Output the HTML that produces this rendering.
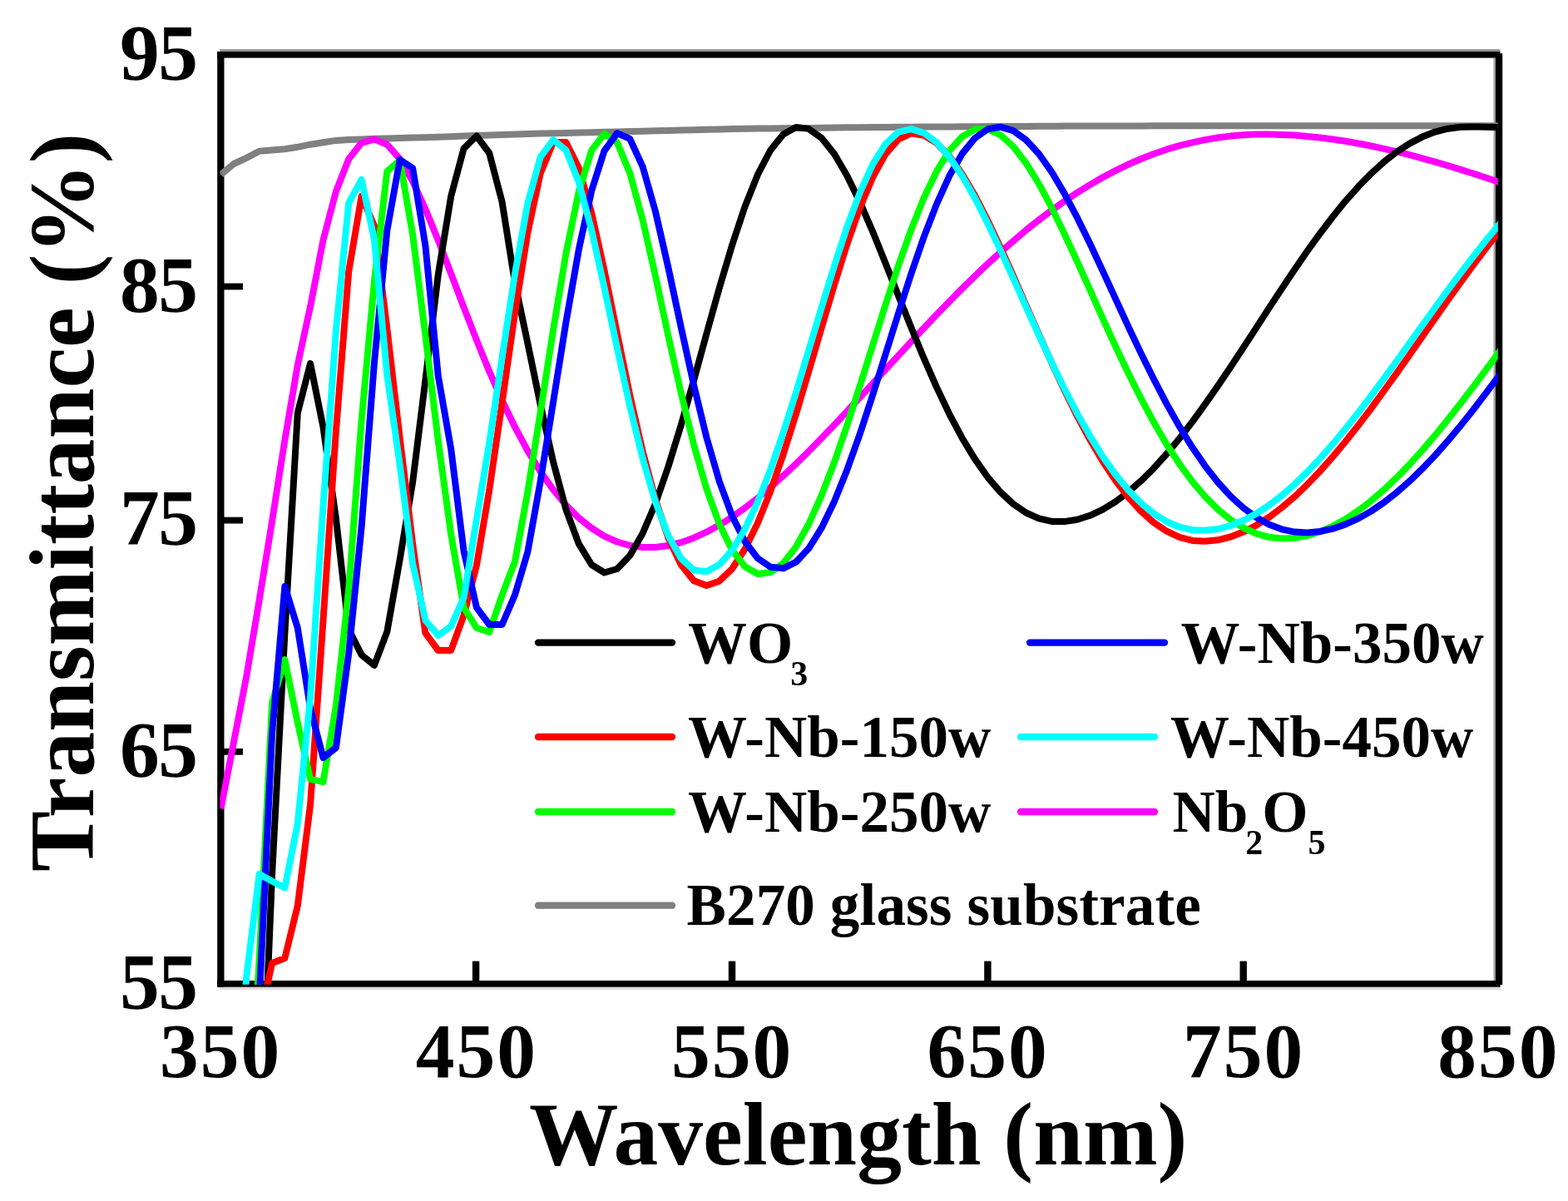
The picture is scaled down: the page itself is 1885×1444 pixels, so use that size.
<!DOCTYPE html>
<html lang="en"><head><meta charset="utf-8"><title>Transmittance spectra</title>
<style>html,body{margin:0;padding:0;background:#fff;}body{width:1885px;height:1444px;overflow:hidden;}svg{display:block;}text{font-family:"Liberation Serif","DejaVu Serif",serif;font-weight:bold;fill:#000;}</style>
</head><body>
<svg xmlns="http://www.w3.org/2000/svg" width="1885" height="1444" viewBox="0 0 1885 1444">
<rect x="0" y="0" width="1885" height="1444" fill="#ffffff"/>
<defs><clipPath id="plot"><rect x="264.4" y="61.5" width="1536.4" height="1122.3"/></clipPath></defs>
<rect x="264.2" y="59.2" width="1539.3" height="3" fill="#909090"/>
<rect x="1795.6" y="69.6" width="2.6" height="1109.6" fill="#999999"/>
<rect x="264.2" y="1186.6" width="1539.8" height="3.4" fill="#dcdcdc"/>
<g fill="#000">
<rect x="261.2" y="62.1" width="8.3" height="1124.6"/>
<rect x="261.2" y="62.1" width="1542.3" height="7.5"/>
<rect x="1798" y="64.2" width="8.2" height="1119.8"/>
<rect x="261.2" y="1179" width="1542.4" height="7.7"/>
<rect x="567.9" y="1155.6" width="8.4" height="24"/>
<rect x="875.8" y="1155.6" width="8.4" height="24"/>
<rect x="1183.2" y="1155.6" width="8.4" height="24"/>
<rect x="1490.5" y="1155.6" width="8.4" height="24"/>
<rect x="269" y="340.6" width="23" height="7.8"/>
<rect x="269" y="621.7" width="23" height="7.8"/>
<rect x="269" y="899.9" width="23" height="7.8"/>
</g>
<g clip-path="url(#plot)" fill="none" stroke-width="8.0" stroke-linejoin="round" stroke-linecap="butt">
<path stroke="#808080" d="M265.6,210.0 L281.0,197.0 L296.3,189.9 L311.7,181.8 L327.1,180.5 L342.4,179.3 L357.8,176.8 L373.1,173.7 L388.5,171.2 L403.9,168.9 L419.2,168.0 L434.6,167.4 L450.0,166.8 L465.3,166.4 L480.7,166.0 L496.1,165.6 L511.4,165.2 L526.8,164.8 L542.2,164.2 L557.5,163.6 L572.9,163.0 L588.2,162.5 L603.6,162.0 L619.0,161.6 L634.3,161.1 L649.7,160.6 L665.1,160.2 L680.4,159.9 L695.8,159.5 L711.2,159.2 L726.5,158.8 L741.9,158.4 L757.2,158.1 L772.6,157.7 L788.0,157.3 L803.3,156.9 L818.7,156.6 L834.1,156.2 L849.4,155.8 L864.8,155.4 L880.2,155.0 L895.5,154.8 L910.9,154.6 L926.3,154.4 L941.6,154.2 L957.0,154.0 L972.3,153.9 L987.7,153.7 L1003.1,153.5 L1018.4,153.3 L1033.8,153.2 L1049.2,153.1 L1064.5,152.9 L1079.9,152.8 L1095.3,152.7 L1110.6,152.5 L1126.0,152.4 L1141.3,152.4 L1156.7,152.3 L1172.1,152.2 L1187.4,152.1 L1202.8,152.0 L1218.2,151.9 L1233.5,151.9 L1248.9,151.8 L1264.3,151.7 L1279.6,151.6 L1295.0,151.5 L1310.4,151.5 L1325.7,151.5 L1341.1,151.4 L1356.4,151.4 L1371.8,151.4 L1387.2,151.3 L1402.5,151.3 L1417.9,151.3 L1433.3,151.3 L1448.6,151.2 L1464.0,151.2 L1479.4,151.2 L1494.7,151.2 L1510.1,151.2 L1525.4,151.2 L1540.8,151.2 L1556.2,151.2 L1571.5,151.2 L1586.9,151.2 L1602.3,151.2 L1617.6,151.2 L1633.0,151.2 L1648.4,151.2 L1663.7,151.2 L1679.1,151.2 L1694.5,151.2 L1709.8,151.2 L1725.2,151.2 L1740.5,151.2 L1755.9,151.2 L1771.3,151.2 L1786.6,151.2 L1802.0,151.2 L1814.0,151.2"/>
<path stroke="#ff00ff" d="M265.6,972.3 L281.0,892.2 L296.3,813.2 L311.7,721.5 L327.1,626.7 L342.4,529.2 L357.8,439.0 L373.1,368.4 L388.5,288.8 L403.9,230.2 L419.2,191.2 L434.6,171.8 L450.0,167.4 L465.3,173.7 L480.7,191.2 L496.1,217.9 L511.4,251.3 L526.8,289.0 L542.2,329.0 L557.5,369.4 L572.9,408.9 L588.2,446.5 L603.6,481.5 L619.0,513.4 L634.3,541.9 L649.7,567.1 L665.1,588.8 L680.4,607.3 L695.8,622.7 L711.2,635.0 L726.5,644.6 L741.9,651.5 L757.2,655.9 L772.6,658.0 L788.0,658.0 L803.3,656.0 L818.7,652.2 L834.1,646.7 L849.4,639.7 L864.8,631.3 L880.2,621.6 L895.5,610.7 L910.9,598.8 L926.3,585.8 L941.6,572.1 L957.0,557.6 L972.3,542.5 L987.7,526.8 L1003.1,510.8 L1018.4,494.4 L1033.8,477.8 L1049.2,461.1 L1064.5,444.3 L1079.9,427.6 L1095.3,410.9 L1110.6,394.5 L1126.0,378.3 L1141.3,362.4 L1156.7,346.9 L1172.1,331.8 L1187.4,317.2 L1202.8,303.2 L1218.2,289.7 L1233.5,276.7 L1248.9,264.5 L1264.3,252.8 L1279.6,241.9 L1295.0,231.6 L1310.4,222.1 L1325.7,213.2 L1341.1,205.1 L1356.4,197.7 L1371.8,191.0 L1387.2,185.0 L1402.5,179.7 L1417.9,175.2 L1433.3,171.3 L1448.6,168.1 L1464.0,165.5 L1479.4,163.6 L1494.7,162.3 L1510.1,161.6 L1525.4,161.5 L1540.8,161.9 L1556.2,162.6 L1571.5,163.9 L1586.9,165.5 L1602.3,167.5 L1617.6,169.8 L1633.0,172.5 L1648.4,175.5 L1663.7,178.8 L1679.1,182.4 L1694.5,186.2 L1709.8,190.3 L1725.2,194.6 L1740.5,199.1 L1755.9,203.8 L1771.3,208.7 L1786.6,213.7 L1802.0,218.9 L1814.0,222.9"/>
<path stroke="#000000" d="M311.7,1420.0 L327.1,1051.1 L342.4,761.4 L357.8,496.6 L373.1,437.0 L388.5,513.5 L403.9,623.4 L419.2,756.7 L434.6,787.4 L450.0,799.9 L465.3,759.6 L480.7,672.6 L496.1,579.9 L511.4,457.1 L526.8,330.0 L542.2,236.0 L557.5,178.7 L572.9,163.5 L588.2,184.0 L603.6,242.8 L619.0,339.9 L634.3,412.4 L649.7,486.6 L665.1,555.4 L680.4,612.5 L695.8,653.8 L711.2,679.0 L726.5,688.5 L741.9,684.0 L757.2,668.0 L772.6,641.3 L788.0,605.3 L803.3,561.3 L818.7,511.2 L834.1,457.1 L849.4,401.3 L864.8,346.2 L880.2,294.5 L895.5,248.4 L910.9,209.9 L926.3,180.5 L941.6,161.4 L957.0,153.0 L972.3,154.9 L987.7,166.0 L1003.1,185.3 L1018.4,211.6 L1033.8,243.2 L1049.2,278.6 L1064.5,316.4 L1079.9,355.2 L1095.3,393.6 L1110.6,430.7 L1126.0,465.6 L1141.3,497.8 L1156.7,526.7 L1172.1,552.1 L1187.4,573.8 L1202.8,591.8 L1218.2,606.0 L1233.5,616.5 L1248.9,623.4 L1264.3,626.9 L1279.6,627.1 L1295.0,624.7 L1310.4,619.8 L1325.7,612.6 L1341.1,603.1 L1356.4,591.6 L1371.8,578.1 L1387.2,562.8 L1402.5,545.8 L1417.9,527.2 L1433.3,507.3 L1448.6,486.2 L1464.0,464.1 L1479.4,441.3 L1494.7,418.0 L1510.1,394.4 L1525.4,370.7 L1540.8,347.3 L1556.2,324.3 L1571.5,302.1 L1586.9,280.7 L1602.3,260.5 L1617.6,241.6 L1633.0,224.3 L1648.4,208.6 L1663.7,194.7 L1679.1,182.7 L1694.5,172.6 L1709.8,164.6 L1725.2,158.6 L1740.5,154.7 L1755.9,152.7 L1771.3,152.5 L1786.6,152.7 L1802.0,153.0 L1814.0,153.2"/>
<path stroke="#ff0000" d="M311.7,1228.0 L327.1,1158.0 L342.4,1152.0 L357.8,1089.0 L373.1,967.3 L388.5,746.1 L403.9,518.6 L419.2,326.6 L434.6,236.0 L450.0,271.7 L465.3,394.8 L480.7,526.7 L496.1,654.0 L511.4,761.2 L526.8,782.0 L542.2,782.0 L557.5,740.0 L572.9,680.0 L588.2,589.5 L603.6,484.2 L619.0,376.4 L634.3,280.1 L649.7,208.4 L665.1,171.0 L680.4,171.1 L695.8,201.8 L711.2,256.1 L726.5,325.2 L741.9,400.7 L757.2,475.0 L772.6,542.9 L788.0,600.8 L803.3,646.6 L818.7,679.1 L834.1,698.2 L849.4,704.1 L864.8,698.7 L880.2,683.8 L895.5,660.3 L910.9,628.8 L926.3,590.5 L941.6,546.4 L957.0,497.8 L972.3,446.4 L987.7,393.8 L1003.1,342.1 L1018.4,293.3 L1033.8,249.7 L1049.2,213.1 L1064.5,185.4 L1079.9,167.6 L1095.3,160.4 L1110.6,162.7 L1126.0,172.1 L1141.3,187.9 L1156.7,209.3 L1172.1,235.4 L1187.4,265.2 L1202.8,297.7 L1218.2,331.9 L1233.5,367.0 L1248.9,402.0 L1264.3,436.3 L1279.6,469.2 L1295.0,500.2 L1310.4,528.8 L1325.7,554.8 L1341.1,577.9 L1356.4,597.9 L1371.8,614.8 L1387.2,628.4 L1402.5,638.7 L1417.9,645.9 L1433.3,649.9 L1448.6,650.8 L1464.0,649.3 L1479.4,645.5 L1494.7,639.6 L1510.1,631.7 L1525.4,622.0 L1540.8,610.4 L1556.2,597.3 L1571.5,582.6 L1586.9,566.5 L1602.3,549.1 L1617.6,530.7 L1633.0,511.2 L1648.4,491.0 L1663.7,470.0 L1679.1,448.6 L1694.5,426.8 L1709.8,404.8 L1725.2,382.8 L1740.5,361.0 L1755.9,339.5 L1771.3,318.4 L1786.6,298.1 L1802.0,278.5 L1814.0,263.3"/>
<path stroke="#00ff00" d="M296.3,1400.0 L311.7,1153.1 L327.1,845.2 L342.4,793.1 L357.8,869.0 L373.1,936.9 L388.5,940.1 L403.9,848.9 L419.2,709.0 L434.6,505.5 L450.0,337.6 L465.3,206.0 L480.7,192.8 L496.1,282.0 L511.4,403.3 L526.8,530.6 L542.2,642.7 L557.5,730.4 L572.9,755.0 L588.2,760.0 L603.6,715.4 L619.0,675.3 L634.3,591.8 L649.7,495.5 L665.1,396.4 L680.4,304.8 L695.8,230.3 L711.2,180.8 L726.5,160.9 L741.9,171.3 L757.2,208.1 L772.6,264.4 L788.0,332.1 L803.3,403.5 L818.7,472.5 L834.1,534.8 L849.4,587.9 L864.8,630.2 L880.2,661.4 L895.5,681.2 L910.9,689.9 L926.3,688.2 L941.6,677.1 L957.0,657.4 L972.3,629.8 L987.7,595.5 L1003.1,555.5 L1018.4,511.1 L1033.8,463.7 L1049.2,415.0 L1064.5,366.4 L1079.9,319.7 L1095.3,276.4 L1110.6,238.1 L1126.0,205.9 L1141.3,181.1 L1156.7,164.2 L1172.1,155.6 L1187.4,155.3 L1202.8,162.4 L1218.2,176.3 L1233.5,196.2 L1248.9,221.0 L1264.3,249.7 L1279.6,281.2 L1295.0,314.5 L1310.4,348.7 L1325.7,382.9 L1341.1,416.5 L1356.4,448.8 L1371.8,479.4 L1387.2,508.0 L1402.5,534.2 L1417.9,557.8 L1433.3,578.8 L1448.6,596.9 L1464.0,612.3 L1479.4,624.8 L1494.7,634.5 L1510.1,641.5 L1525.4,645.8 L1540.8,647.5 L1556.2,646.9 L1571.5,644.1 L1586.9,639.3 L1602.3,632.6 L1617.6,624.1 L1633.0,613.9 L1648.4,602.1 L1663.7,588.8 L1679.1,574.2 L1694.5,558.4 L1709.8,541.4 L1725.2,523.4 L1740.5,504.6 L1755.9,485.0 L1771.3,464.9 L1786.6,444.3 L1802.0,423.5 L1814.0,407.2"/>
<path stroke="#0000ff" d="M296.3,1500.0 L311.7,1202.7 L327.1,882.1 L342.4,705.0 L357.8,755.0 L373.1,852.0 L388.5,911.0 L403.9,899.0 L419.2,786.0 L434.6,633.7 L450.0,435.8 L465.3,277.3 L480.7,192.0 L496.1,202.0 L511.4,295.3 L526.8,452.1 L542.2,539.9 L557.5,662.3 L572.9,730.3 L588.2,751.0 L603.6,751.0 L619.0,715.4 L634.3,663.9 L649.7,578.6 L665.1,483.3 L680.4,387.5 L695.8,300.2 L711.2,229.3 L726.5,181.3 L741.9,160.1 L757.2,166.8 L772.6,200.3 L788.0,254.5 L803.3,321.5 L818.7,393.4 L834.1,463.2 L849.4,526.0 L864.8,578.8 L880.2,620.5 L895.5,651.0 L910.9,671.2 L926.3,681.7 L941.6,683.3 L957.0,675.7 L972.3,659.3 L987.7,634.7 L1003.1,602.8 L1018.4,564.7 L1033.8,521.6 L1049.2,474.8 L1064.5,426.1 L1079.9,377.1 L1095.3,329.6 L1110.6,285.1 L1126.0,245.4 L1141.3,211.6 L1156.7,184.9 L1172.1,166.0 L1187.4,155.2 L1202.8,152.6 L1218.2,157.2 L1233.5,168.2 L1248.9,185.0 L1264.3,206.7 L1279.6,232.6 L1295.0,261.7 L1310.4,293.1 L1325.7,325.9 L1341.1,359.3 L1356.4,392.6 L1371.8,425.1 L1387.2,456.2 L1402.5,485.6 L1417.9,512.9 L1433.3,537.8 L1448.6,560.1 L1464.0,579.7 L1479.4,596.6 L1494.7,610.6 L1510.1,621.9 L1525.4,630.5 L1540.8,636.3 L1556.2,639.6 L1571.5,640.4 L1586.9,639.0 L1602.3,635.7 L1617.6,630.4 L1633.0,623.4 L1648.4,614.6 L1663.7,604.1 L1679.1,592.1 L1694.5,578.6 L1709.8,563.7 L1725.2,547.5 L1740.5,530.1 L1755.9,511.7 L1771.3,492.5 L1786.6,472.4 L1802.0,451.8 L1814.0,435.7"/>
<path stroke="#00ffff" d="M281.0,1400.0 L296.3,1174.0 L311.7,1051.0 L327.1,1059.5 L342.4,1067.5 L357.8,990.2 L373.1,837.7 L388.5,608.2 L403.9,397.9 L419.2,244.1 L434.6,216.0 L450.0,288.3 L465.3,450.5 L480.7,559.2 L496.1,677.6 L511.4,745.7 L526.8,764.1 L542.2,753.0 L557.5,718.6 L572.9,624.7 L588.2,532.5 L603.6,429.7 L619.0,329.2 L634.3,244.9 L649.7,188.9 L665.1,168.0 L680.4,180.5 L695.8,219.0 L711.2,276.8 L726.5,345.8 L741.9,418.4 L757.2,488.4 L772.6,551.2 L788.0,603.6 L803.3,643.9 L818.7,671.3 L834.1,685.5 L849.4,687.2 L864.8,678.8 L880.2,661.6 L895.5,636.2 L910.9,603.5 L926.3,564.4 L941.6,520.1 L957.0,471.7 L972.3,420.9 L987.7,369.5 L1003.1,319.3 L1018.4,272.5 L1033.8,231.3 L1049.2,197.7 L1064.5,173.1 L1079.9,158.8 L1095.3,155.1 L1110.6,159.9 L1126.0,171.3 L1141.3,188.8 L1156.7,211.4 L1172.1,238.3 L1187.4,268.5 L1202.8,300.9 L1218.2,334.7 L1233.5,369.0 L1248.9,403.0 L1264.3,436.0 L1279.6,467.5 L1295.0,497.1 L1310.4,524.3 L1325.7,548.9 L1341.1,570.6 L1356.4,589.3 L1371.8,605.0 L1387.2,617.6 L1402.5,627.2 L1417.9,633.7 L1433.3,637.2 L1448.6,637.8 L1464.0,636.0 L1479.4,632.0 L1494.7,625.8 L1510.1,617.6 L1525.4,607.6 L1540.8,595.8 L1556.2,582.4 L1571.5,567.4 L1586.9,551.2 L1602.3,533.7 L1617.6,515.3 L1633.0,495.9 L1648.4,475.8 L1663.7,455.1 L1679.1,434.0 L1694.5,412.7 L1709.8,391.3 L1725.2,370.0 L1740.5,348.9 L1755.9,328.3 L1771.3,308.2 L1786.6,288.8 L1802.0,270.2 L1814.0,255.7"/>
</g>
<g stroke-width="8.3" stroke-linecap="round" fill="none">
<line x1="647" y1="772.6" x2="808" y2="772.6" stroke="#000000"/>
<line x1="647" y1="886" x2="808" y2="886" stroke="#ff0000"/>
<line x1="647" y1="976" x2="808" y2="976" stroke="#00ff00"/>
<line x1="647" y1="1088.7" x2="808" y2="1088.7" stroke="#808080"/>
<line x1="1238" y1="772.6" x2="1400" y2="772.6" stroke="#0000ff"/>
<line x1="1227" y1="886" x2="1388" y2="886" stroke="#00ffff"/>
<line x1="1227" y1="976" x2="1388" y2="976" stroke="#ff00ff"/>
</g>
<g font-size="71">
<text id="l_wo3" x="827" y="797.4">WO<tspan id="l_wo3s" font-size="42" dx="-3" dy="27">3</tspan></text>
<text id="l_150" x="827" y="910">W-Nb-150w</text>
<text id="l_250" x="827" y="1000">W-Nb-250w</text>
<text id="l_b270" x="825.5" y="1112" letter-spacing="0.15">B270 glass substrate</text>
<text id="l_350" x="1419.5" y="797.4">W-Nb-350w</text>
<text id="l_450" x="1407" y="910">W-Nb-450w</text>
<text id="l_nb" x="1409.4" y="1000">Nb<tspan font-size="42" dx="-3" dy="27">2</tspan><tspan dy="-27" dx="-1">O</tspan><tspan font-size="42" dx="0" dy="27">5</tspan></text>
</g>
<g font-size="93.5" letter-spacing="2" text-anchor="middle">
<text id="x350" x="265.1" y="1295">350</text>
<text id="x450" x="572.8" y="1295">450</text>
<text id="x550" x="880.1" y="1295">550</text>
<text id="x650" x="1187.5" y="1295">650</text>
<text id="x750" x="1495.0" y="1295">750</text>
<text id="x850" x="1801.3" y="1295">850</text>
</g>
<g font-size="95.5" letter-spacing="-1.5" text-anchor="end">
<text id="y95" x="236.6" y="96.2">95</text>
<text id="y85" x="236.6" y="374.9">85</text>
<text id="y75" x="236.6" y="655.4">75</text>
<text id="y65" x="236.6" y="934.2">65</text>
<text id="y55" x="236.6" y="1213.2">55</text>
</g>
<text id="xt" x="636" y="1400" font-size="107.5">Wavelength (nm)</text>
<text id="yt" transform="translate(111.5,1048) rotate(-90)" font-size="109.4">Transmittance (%)</text>
</svg>
</body></html>
